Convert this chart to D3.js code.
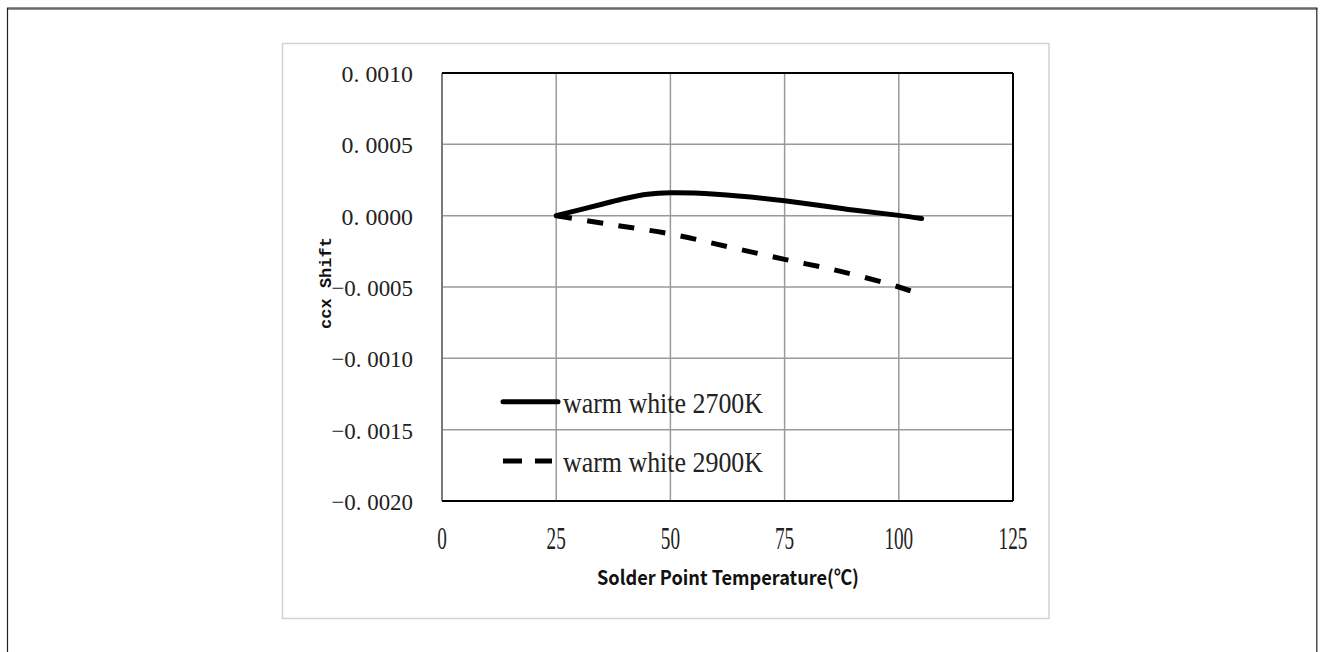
<!DOCTYPE html>
<html>
<head>
<meta charset="utf-8">
<script src="https://cdn.jsdelivr.net/npm/d3@7"></script>
<style>
  html, body { margin: 0; padding: 0; background: #fff; }
  svg { display: block; }
</style>
</head>
<body>
<svg id="chart" width="1321" height="652"></svg>
<script>
// Temperature (°C) sample points and ccx shift for each LED colour temperature
const temps2700 = [25, 35, 40, 45, 50, 60, 75, 90, 100, 105];
const shift2700 = [0, 0.00008, 0.00012, 0.00015, 0.00016, 0.00015, 0.000105, 0.00004, 0.000002, -0.00002];
const temps2900 = [25, 37.5, 50, 62.5, 75, 87.5, 100, 105];
const shift2900 = [0, -0.000065, -0.000128, -0.000217, -0.000306, -0.000392, -0.0005, -0.000556];

const seriesNames = ["warm white 2700K", "warm white 2900K"];
const xTicks = [0, 25, 50, 75, 100, 125];
const yTicks = [0.0010, 0.0005, 0.0000, -0.0005, -0.0010, -0.0015, -0.0020];
const yTickLabels = ["0.\u00a00010", "0.\u00a00005", "0.\u00a00000", "\u22120.\u00a00005", "\u22120.\u00a00010", "\u22120.\u00a00015", "\u22120.\u00a00020"];
const xTitle = "Solder Point Temperature(\u2103)";
const yTitle = "ccx Shift";

const svg = d3.select("#chart");

// outer page frame
svg.append("line").attr("x1", 7).attr("x2", 1317.5).attr("y1", 8.5).attr("y2", 8.5)
  .attr("stroke", "#6a6a6a").attr("stroke-width", 2.5);
svg.append("line").attr("x1", 7.5).attr("x2", 7.5).attr("y1", 8).attr("y2", 652)
  .attr("stroke", "#222").attr("stroke-width", 1.2);
svg.append("line").attr("x1", 1316.8).attr("x2", 1316.8).attr("y1", 8).attr("y2", 652)
  .attr("stroke", "#222").attr("stroke-width", 1.2);

// chart box
svg.append("rect").attr("x", 282.5).attr("y", 43.5).attr("width", 766.5).attr("height", 575)
  .attr("fill", "none").attr("stroke", "#d2d2d2").attr("stroke-width", 1.5);

const plotL = 442, plotR = 1013, plotT = 73, plotB = 501;
const x = d3.scaleLinear().domain([0, 125]).range([plotL, plotR]);
const y = d3.scaleLinear().domain([-0.0020, 0.0010]).range([plotB, plotT]);

// gridlines
const grid = svg.append("g");
grid.selectAll("line.v").data(xTicks.slice(1, -1)).join("line")
  .attr("x1", d => x(d)).attr("x2", d => x(d)).attr("y1", plotT).attr("y2", plotB)
  .attr("stroke", "#9a9a9a").attr("stroke-width", 1.5);
grid.selectAll("line.h").data(yTicks.slice(1, -1)).join("line")
  .attr("x1", plotL).attr("x2", plotR).attr("y1", d => y(d)).attr("y2", d => y(d))
  .attr("stroke", "#9a9a9a").attr("stroke-width", 1.5);

// plot frame: grey left edge, black top/right/bottom
svg.append("line").attr("x1", plotL).attr("x2", plotL).attr("y1", plotT).attr("y2", plotB)
  .attr("stroke", "#7a7a7a").attr("stroke-width", 2);
svg.append("line").attr("x1", plotL).attr("x2", plotR).attr("y1", plotT).attr("y2", plotT)
  .attr("stroke", "#000").attr("stroke-width", 2);
svg.append("line").attr("x1", plotR).attr("x2", plotR).attr("y1", plotT).attr("y2", plotB)
  .attr("stroke", "#000").attr("stroke-width", 2);
svg.append("line").attr("x1", plotL).attr("x2", plotR).attr("y1", plotB).attr("y2", plotB)
  .attr("stroke", "#000").attr("stroke-width", 2);

// y tick labels
svg.append("g").selectAll("text").data(yTicks).join("text")
  .attr("x", 413).attr("y", d => y(d) + 9)
  .attr("text-anchor", "end")
  .attr("font-family", "Liberation Serif, serif").attr("font-size", 24).attr("fill", "#222")
  .attr("textLength", (d, i) => yTickLabels[i].length * 10.2)
  .attr("lengthAdjust", "spacingAndGlyphs")
  .text((d, i) => yTickLabels[i]);

// x tick labels
svg.append("g").selectAll("text").data(xTicks).join("text")
  .attr("x", d => x(d)).attr("y", 549)
  .attr("text-anchor", "middle")
  .attr("font-family", "Liberation Serif, serif").attr("font-size", 32).attr("fill", "#222")
  .attr("textLength", d => String(d).length * 9.6)
  .attr("lengthAdjust", "spacingAndGlyphs")
  .text(d => d);

// axis titles
svg.append("text").attr("x", 728).attr("y", 585)
  .attr("text-anchor", "middle")
  .attr("font-family", "Noto Sans CJK SC, Open Sans, sans-serif").attr("font-weight", "bold")
  .attr("font-size", 20).attr("fill", "#111")
  .attr("textLength", 262).attr("lengthAdjust", "spacingAndGlyphs")
  .text(xTitle);

svg.append("text")
  .attr("transform", "translate(331,283) rotate(-90)")
  .attr("text-anchor", "middle")
  .attr("font-family", "Liberation Mono, monospace").attr("font-weight", "bold")
  .attr("font-size", 17).attr("fill", "#111")
  .text(yTitle);

// series lines
const line = d3.line().x(d => x(d[0])).y(d => y(d[1])).curve(d3.curveCatmullRom.alpha(0.5));
const data2700 = temps2700.map((t, i) => [t, shift2700[i]]);
const data2900 = temps2900.map((t, i) => [t, shift2900[i]]);

svg.append("path").datum(data2700).attr("d", line)
  .attr("fill", "none").attr("stroke", "#000").attr("stroke-width", 5).attr("stroke-linecap", "round");
svg.append("path").datum(data2900).attr("d", line)
  .attr("fill", "none").attr("stroke", "#000").attr("stroke-width", 5)
  .attr("stroke-dasharray", "16,15.5");

// legend
const legend = svg.append("g");
const legendRows = [{ y: 401.7, dash: null }, { y: 461, dash: "19,13" }];
legendRows.forEach((r, i) => {
  legend.append("line").attr("x1", 503).attr("x2", i === 0 ? 558 : 552)
    .attr("y1", r.y).attr("y2", r.y)
    .attr("stroke", "#000").attr("stroke-width", 5)
    .attr("stroke-dasharray", r.dash)
    .attr("stroke-linecap", i === 0 ? "round" : "butt");
  legend.append("text").attr("x", 563).attr("y", r.y + 11)
    .attr("font-family", "Liberation Serif, serif").attr("font-size", 29).attr("fill", "#222")
    .attr("textLength", 200).attr("lengthAdjust", "spacingAndGlyphs")
    .text(seriesNames[i]);
});
</script>
</body>
</html>
